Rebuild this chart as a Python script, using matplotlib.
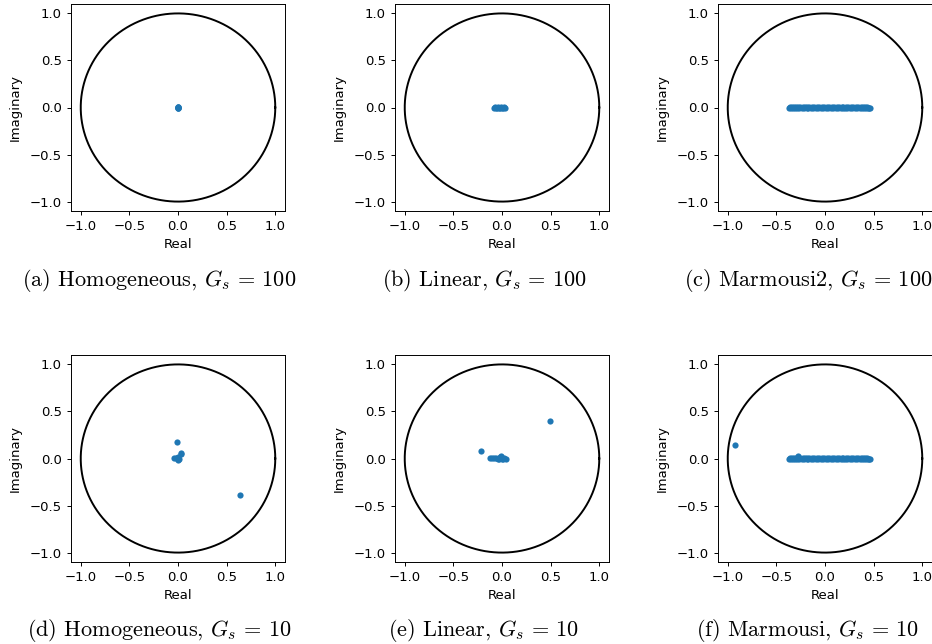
import numpy as np
import matplotlib
matplotlib.use('Agg')
import matplotlib.pyplot as plt

# Eigenvalores (parte real / parte imaginaria)
homog_100_re = [0.0, -0.005, 0.005, 0.0, 0.003, -0.003]
homog_100_im = [0.0, 0.005, -0.004, 0.009, -0.008, 0.002]

linear_100_re = [-0.08, -0.07, -0.06, -0.05, -0.04, -0.03, -0.02, -0.01, 0.0, 0.01, 0.02, 0.03]
linear_100_im = [0.0, 0.002, -0.002, 0.0, 0.003, -0.003, 0.0, 0.002, -0.002, 0.0, 0.002, -0.001]

marm2_100_re = [-0.37, -0.36, -0.35, -0.34, -0.33, -0.32, -0.31, -0.30, -0.29, -0.28,
                -0.27, -0.26, -0.24, -0.23, -0.22, -0.21, -0.19, -0.18, -0.17, -0.16,
                -0.14, -0.13, -0.12, -0.11, -0.09, -0.08, -0.07, -0.06, -0.04, -0.03,
                -0.02, -0.01, 0.01, 0.02, 0.03, 0.04, 0.06, 0.07, 0.08, 0.09,
                0.11, 0.12, 0.13, 0.14, 0.16, 0.17, 0.18, 0.19, 0.21, 0.22,
                0.23, 0.24, 0.26, 0.27, 0.28, 0.29, 0.31, 0.32, 0.33, 0.34,
                0.36, 0.37, 0.38, 0.39, 0.40, 0.41, 0.42, 0.43, 0.44, 0.45, 0.46]
marm2_100_im = [0.0, 0.002, -0.002, 0.003, -0.003, 0.003, -0.003, 0.004, -0.004, 0.004,
                -0.004, 0.005, -0.005, 0.005, -0.005, 0.005, -0.005, 0.005, -0.005, 0.005,
                -0.005, 0.005, -0.005, 0.005, -0.005, 0.005, -0.005, 0.005, -0.005, 0.005,
                -0.005, 0.005, -0.005, 0.005, -0.005, 0.005, -0.005, 0.005, -0.005, 0.005,
                -0.005, 0.005, -0.005, 0.005, -0.005, 0.005, -0.005, 0.005, -0.005, 0.005,
                -0.004, 0.004, -0.004, 0.004, -0.004, 0.003, -0.003, 0.003, -0.003, 0.003,
                -0.003, 0.002, -0.002, 0.002, -0.002, 0.001, -0.001, 0.001, -0.001, 0.0, 0.0]

homog_10_re = [-0.01, 0.64, -0.045, 0.027, 0.035, 0.005, 0.0, -0.02, 0.01]
homog_10_im = [0.18, -0.385, 0.01, 0.057, 0.05, -0.015, 0.02, 0.005, -0.005]

linear_10_re = [0.49, -0.22, -0.12, -0.10, -0.08, -0.06, -0.04, -0.03, -0.01, 0.0, 0.02, 0.04, -0.02, 0.01]
linear_10_im = [0.40, 0.075, 0.01, 0.01, 0.008, 0.005, 0.0, 0.0, 0.03, -0.01, 0.01, 0.0, 0.02, -0.01]

marm_10_re = [-0.93, -0.28] + marm2_100_re
marm_10_im = [0.146, 0.03] + marm2_100_im

paneles = [
    (homog_100_re, homog_100_im, r'(a) Homogeneous, $G_s\,=\,100$'),
    (linear_100_re, linear_100_im, r'(b) Linear, $G_s\,=\,100$'),
    (marm2_100_re, marm2_100_im, r'(c) Marmousi2, $G_s\,=\,100$'),
    (homog_10_re, homog_10_im, r'(d) Homogeneous, $G_s\,=\,10$'),
    (linear_10_re, linear_10_im, r'(e) Linear, $G_s\,=\,10$'),
    (marm_10_re, marm_10_im, r'(f) Marmousi, $G_s\,=\,10$'),
]

plt.rcParams['mathtext.fontset'] = 'cm'

W, H = 932, 644
fig = plt.figure(figsize=(W / 100, H / 100), dpi=100)

col_left = [71, 395, 718]
row_top = [4, 355]
ax_w, ax_h = 214, 207
cap_x = [159, 484, 808]
cap_y = [281, 631]

theta = np.linspace(0, 2 * np.pi, 400)

for k, (re, im, titulo) in enumerate(paneles):
    fila, col = divmod(k, 3)
    x0 = col_left[col] / W
    y0 = (H - row_top[fila] - ax_h) / H
    ax = fig.add_axes([x0, y0, ax_w / W, ax_h / H])
    ax.plot(np.cos(theta), np.sin(theta), color='black', lw=1.4)
    ax.scatter(re, im, s=20, color='#1f77b4', zorder=3, linewidths=0)
    ax.set_xlim(-1.1, 1.1)
    ax.set_ylim(-1.1, 1.1)
    ax.set_xticks([-1.0, -0.5, 0.0, 0.5, 1.0])
    ax.set_yticks([-1.0, -0.5, 0.0, 0.5, 1.0])
    ax.tick_params(labelsize=9.5, length=3.1, width=0.7, pad=3.5)
    for s in ax.spines.values():
        s.set_linewidth(0.7)
    ax.set_xlabel('Real', fontsize=9.5, labelpad=3.5)
    ax.set_ylabel('Imaginary', fontsize=9.5, labelpad=5.5)
    fig.text(cap_x[col] / W, 1 - cap_y[fila] / H, titulo, ha='center', va='center',
             fontsize=16, family='cmr10')

fig.savefig('out.png', dpi=100)
